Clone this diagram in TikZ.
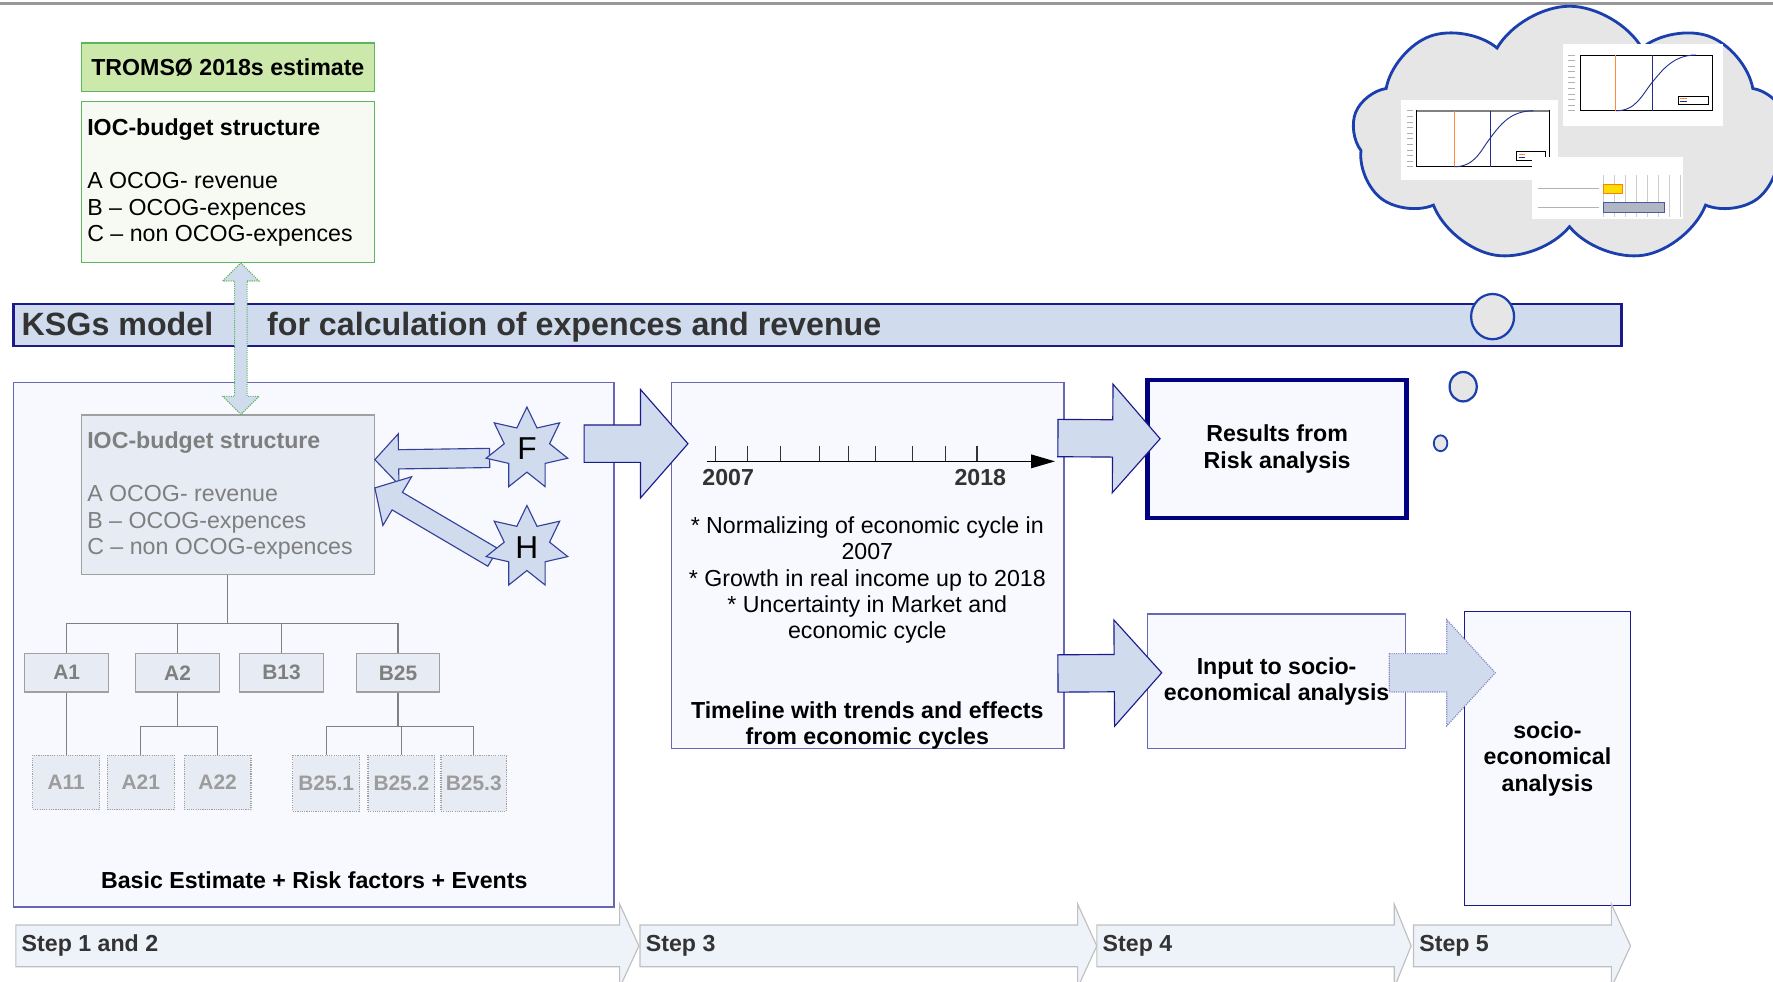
\documentclass[tikz,border=0pt]{standalone}
\usepackage{fontspec}
\setmainfont{Liberation Sans}
\usetikzlibrary{calc,arrows.meta,shapes.geometric,shapes.symbols}

\definecolor{ksgfill}{HTML}{D0DCEE}
\definecolor{ksgline}{HTML}{1A1A8C}
\definecolor{panelfill}{HTML}{F8F9FE}
\definecolor{panelline}{HTML}{6767B5}
\definecolor{navybox}{HTML}{000080}
\definecolor{greenhead}{HTML}{CCE8AA}
\definecolor{greenline}{HTML}{5DB55D}
\definecolor{greenpale}{HTML}{F7F9F3}
\definecolor{budgetfill}{HTML}{E6EBF4}
\definecolor{budgetline}{HTML}{A0A0A0}
\definecolor{greytext}{HTML}{7F7F7F}
\definecolor{paletext}{HTML}{9C9C9C}
\definecolor{darktext}{HTML}{333333}
\definecolor{cloudline}{HTML}{1C3FAE}
\definecolor{cloudfill}{HTML}{E6E6E6}
\definecolor{stepfill}{HTML}{EEF2F9}
\definecolor{stepline}{HTML}{BFBFBF}
\definecolor{starline}{HTML}{34409C}
\definecolor{chartorange}{HTML}{FF8A3D}
\definecolor{chartblue}{HTML}{1F2E8C}

\newcommand{\txtfont}{\fontsize{20.5}{23.4}\selectfont}
\newcommand{\treefont}{\fontsize{18.5}{21}\selectfont\bfseries}
\newcommand{\ksgfont}{\fontsize{28.5}{32}\selectfont\bfseries}

% fat arrow from #2 to #3: shaft half width #4, head half width #5, head length #6
\newcommand{\blockarrow}[6][]{%
  \coordinate (ba-base) at ($(#3)!#6!(#2)$);
  \draw[#1] ($(#2)!#4!90:(#3)$) -- ($(ba-base)!#4!90:(#3)$) -- ($(ba-base)!#5!90:(#3)$) -- (#3)
    -- ($(ba-base)!#5!-90:(#3)$) -- ($(ba-base)!#4!-90:(#3)$) -- ($(#2)!#4!-90:(#3)$) -- cycle;
}

\tikzset{
  plainbox/.style={draw, rectangle, inner sep=0},
  panel/.style={plainbox, draw=panelline, fill=panelfill, line width=1.2pt},
  budget/.style={plainbox, draw=budgetline, fill=budgetfill, line width=1pt},
  branch/.style={budget, text=greytext, font=\treefont},
  leaf/.style={plainbox, draw=budgetline, densely dotted, fill=budgetfill, line width=1pt, text=paletext, font=\treefont},
  treeline/.style={draw=gray, line width=1pt},
  fatarrow/.style={draw=ksgline, fill=ksgfill, line width=1pt, line join=miter},
  starnode/.style={star, star points=7, star point ratio=1.8, minimum size=74pt, inner sep=0,
    draw=starline, fill=ksgfill, line width=1pt, font=\fontsize{28}{32}\selectfont},
  bubble/.style={ellipse, draw=cloudline, fill=cloudfill, line width=2pt, inner sep=0},
  steparrow/.style={draw=stepline, fill=stepfill, line width=1pt},
  chartline/.style={line width=0.8pt}
}

\begin{document}
\begin{tikzpicture}[x=1pt,y=-1pt]
  \useasboundingbox (0,0) rectangle (1568,868);

  \draw[gray!80, line width=2pt] (0,3) -- (1568,3);

  % estimate boxes
  \node (tromso) at (201.5,59.5) [plainbox, draw=greenline, fill=greenhead, line width=1pt,
    minimum width=259pt, minimum height=43pt, font=\txtfont\bfseries]{TROMSØ 2018s estimate};
  \node (ioctop) at (201.5,161) [plainbox, draw=greenline, fill=greenpale, line width=1pt,
    minimum width=259pt, minimum height=142pt]{};
  \node (ioctoptext) at (77,105) [anchor=north west, inner sep=0, align=left, font=\txtfont]
    {\textbf{IOC-budget structure}\\[23.4pt] A OCOG- revenue\\ B – OCOG-expences\\ C – non OCOG-expences};

  % cloud with the result charts
  \node (cloud) at (1388,119) [cloud, cloud puffs=9, cloud puff arc=120, aspect=1.7,
    draw=cloudline, fill=cloudfill, line width=2.5pt, minimum width=384pt, minimum height=227pt, inner sep=0]{};

  \fill[white] (1239,88) rectangle (1378,159);
  \foreach \k in {0,...,10}
    \draw[gray!60, line width=0.8pt] (1244,{98+\k*4.95}) -- ++(6,0);
  \draw[chartline, black] (1253,98) rectangle (1370,147.5);
  \draw[gray, line width=1.5pt] (1253,98) -- (1370,98);
  \draw[chartorange, line width=1pt] (1286,98) -- (1286,147.5);
  \draw[chartline, chartblue] (1318,98) -- (1318,147.5);
  \draw[chartline, chartblue] (1286,147.5) .. controls (1305,147.5) and (1310,132) .. (1318,122)
    .. controls (1327,110) and (1336,98) .. (1356,98);
  \draw[line width=0.6pt, fill=white] (1341,134) rectangle (1367,142);
  \draw[chartorange, line width=1pt] (1343,136.5) -- (1349,136.5);
  \draw[chartblue, line width=1pt] (1343,139.5) -- (1349,139.5);

  \fill[white] (1382,39) rectangle (1524,111);
  \foreach \k in {0,...,10}
    \draw[gray!60, line width=0.8pt] (1387,{48.6+\k*4.94}) -- ++(6,0);
  \draw[chartline, black] (1398,48.6) rectangle (1514,98);
  \draw[chartorange, line width=1pt] (1429,48.6) -- (1429,98);
  \draw[chartline, chartblue] (1461,48.6) -- (1461,98);
  \draw[chartline, chartblue] (1429,98) .. controls (1447,98) and (1452,84) .. (1461,73)
    .. controls (1470,62) and (1480,48.6) .. (1500,48.6);
  \draw[line width=0.6pt, fill=white] (1484,85) rectangle (1511,92);
  \draw[chartorange, line width=1pt] (1486,87.2) -- (1492,87.2);
  \draw[chartblue, line width=1pt] (1486,89.8) -- (1492,89.8);

  \fill[white] (1355,139) rectangle (1488,194);
  \foreach \g in {0,...,7}
    \draw[gray!40, line width=0.8pt] ({1418+\g*9.7},155) -- ++(0,37);
  \draw[gray!60, line width=0.8pt] (1360,167) -- (1414,167) (1360,183.5) -- (1414,183.5);
  \draw[draw=orange, fill=yellow!80!orange, line width=1pt] (1418,163) rectangle (1435,171);
  \draw[draw=chartblue!80, fill=ksgfill!60!gray, line width=1pt] (1418,179) rectangle (1472,188);

  % model bar
  \node (ksgbar) at (723,287.5) [plainbox, draw=ksgline, fill=ksgfill, line width=2pt,
    minimum width=1422pt, minimum height=37pt]{};
  \node (ksgname) at (19,297) [anchor=base west, inner sep=0, font=\ksgfont, text=darktext]{KSGs model};
  \node (ksgtitle) at (236,297) [anchor=base west, inner sep=0, font=\ksgfont, text=darktext]
    {for calculation of expences and revenue};

  % step panels
  \node (leftbox) at (277.5,570) [panel, minimum width=531pt, minimum height=464pt]{};
  \node (timebox) at (767.5,500) [panel, minimum width=347pt, minimum height=324pt]{};
  \node (resbox) at (1129.5,397) [plainbox, draw=navybox, fill=panelfill, line width=4pt,
    minimum width=229pt, minimum height=122pt, align=center, font=\txtfont\bfseries]{Results from\\Risk analysis};
  \node (inbox) at (1129,602.5) [panel, minimum width=228pt, minimum height=119pt,
    align=center, font=\txtfont\bfseries]{Input to socio-\\economical analysis};
  \node (socbox) at (1368.5,671) [panel, draw=ksgline, minimum width=147pt, minimum height=260pt,
    align=center, font=\txtfont\bfseries]{socio-\\economical\\analysis};

  % budget tree
  \node (iocgray) at (201.5,437.5) [budget, minimum width=259pt, minimum height=141pt]{};
  \node (iocgraytext) at (77,382) [anchor=north west, inner sep=0, align=left, font=\txtfont, text=greytext]
    {\textbf{IOC-budget structure}\\[23.4pt] A OCOG- revenue\\ B – OCOG-expences\\ C – non OCOG-expences};

  \node (a1) at (59,595) [branch, minimum width=74pt, minimum height=34pt]{A1};
  \node (a2) at (157,595) [branch, minimum width=74pt, minimum height=34pt]{A2};
  \node (b13) at (249,595) [branch, minimum width=74pt, minimum height=34pt]{B13};
  \node (b25) at (352,595) [branch, minimum width=74pt, minimum height=34pt]{B25};
  \node (a11) at (58.5,692) [leaf, minimum width=59pt, minimum height=48pt]{A11};
  \node (a21) at (124.5,692) [leaf, minimum width=59pt, minimum height=48pt]{A21};
  \node (a22) at (192.5,692) [leaf, minimum width=59pt, minimum height=48pt]{A22};
  \node (b251) at (288.5,693) [leaf, minimum width=59pt, minimum height=49pt]{B25.1};
  \node (b252) at (355,693) [leaf, minimum width=59pt, minimum height=49pt]{B25.2};
  \node (b253) at (419,693) [leaf, minimum width=58pt, minimum height=49pt]{B25.3};

  \coordinate (bus) at ($(iocgray.south)+(0,43)$);
  \draw[treeline] (iocgray.south) -- (bus);
  \foreach \n in {a1,a2,b13,b25}
    \draw[treeline] (bus) -| (\n.north);
  \draw[treeline] (a1.south) -- (a1.south |- a11.north);
  \foreach \n in {a21,a22}
    \draw[treeline] (a2.south) -- ++(0,30) -| (\n.north);
  \foreach \n in {b251,b252,b253}
    \draw[treeline] (b25.south) -- ++(0,30) -| (\n.north);

  \node (basic) at (278,778) [font=\txtfont\bfseries]{Basic Estimate + Risk factors + Events};

  % risk factors and events
  \coordinate (fcentre) at (466,397);
  \coordinate (hcentre) at (466,484);
  \coordinate (ftail) at ($(fcentre)+(-33,8)$);
  \coordinate (ftip) at ($(iocgray.north east)+(0,40)$);
  \coordinate (htail) at ($(hcentre)+(-30,9)$);
  \coordinate (htip) at ($(iocgray.north east)+(0,65)$);
  \blockarrow[fatarrow, draw=starline]{ftail}{ftip}{8.5pt}{22.5pt}{21pt}
  \blockarrow[fatarrow, draw=starline]{htail}{htip}{9pt}{25pt}{23pt}
  \node (fstar) at (fcentre) [starnode]{F};
  \node (hstar) at (hcentre) [starnode]{H};

  % timeline
  \coordinate (tlstart) at (625,408);
  \coordinate (tlend) at (933,408);
  \draw[line width=1pt, -{Triangle[length=21pt,width=12pt]}] (tlstart) -- (tlend);
  \foreach \t in {633,661,690,725,750,774,807,836,864}
    \draw[line width=1pt, darktext] (\t,408) -- ++(0,-14);
  \node (y2007) at (644,422) [font=\txtfont\bfseries, text=darktext]{2007};
  \node (y2018) at (867,422) [font=\txtfont\bfseries, text=darktext]{2018};
  \node (trends) at (767,513) [align=center, font=\txtfont]
    {* Normalizing of economic cycle in\\ 2007\\ * Growth in real income up to 2018\\ * Uncertainty in Market and\\ economic cycle};
  \node (timecap) at (767,641.5) [align=center, font=\txtfont\bfseries]
    {Timeline with trends and effects\\ from economic cycles};

  % step arrows between panels
  \coordinate (s12out) at ($(leftbox.north east)+(-27,55)$);
  \coordinate (s3in) at ($(timebox.north west)+(15,55)$);
  \coordinate (s3outa) at ($(timebox.north east)+(-6,50)$);
  \coordinate (s4ina) at ($(resbox.west)+(13,-9)$);
  \coordinate (s3outb) at ($(timebox.south east)+(-6,-67)$);
  \coordinate (s4inb) at ($(inbox.west)+(13,-7.5)$);
  \coordinate (s4out) at ($(inbox.east)+(-15,-7.5)$);
  \coordinate (s5in) at ($(socbox.west)+(28,-76)$);
  \blockarrow[fatarrow]{s12out}{s3in}{16.5pt}{48pt}{42pt}
  \blockarrow[fatarrow]{s3outa}{s4ina}{16.5pt}{48pt}{42pt}
  \blockarrow[fatarrow]{s3outb}{s4inb}{16.5pt}{47pt}{42pt}
  \blockarrow[fatarrow, draw=panelline!80, densely dotted]{s4out}{s5in}{17pt}{47pt}{43pt}

  % model link
  \coordinate (dtop) at ($(ioctop.south)+(11.5,0)$);
  \coordinate (dbot) at ($(iocgray.north)+(11.5,0)$);
  \draw[fill=ksgfill, draw=greenline, densely dotted, line width=1pt]
    (dtop) -- ++(16,16) -- ++(-10.5,0) -- ($(dbot)+(5.5,-16)$) -- ++(10.5,0) -- (dbot)
    -- ++(-16,-16) -- ++(10.5,0) -- ($(dtop)+(-5.5,16)$) -- ++(-10.5,0) -- cycle;

  % thought bubbles
  \node (think1) at (1320,280) [bubble, minimum width=38pt, minimum height=40pt]{};
  \node (think2) at (1294,342) [bubble, minimum width=24pt, minimum height=26pt]{};
  \node (think3) at (1274,392) [bubble, line width=1.6pt, minimum width=12pt, minimum height=14pt]{};

  % steps
  \foreach \xa/\xb/\xc/\steplab [count=\i] in {14/548/565/Step 1 and 2, 566/953/970/Step 3,
      970/1233/1248/Step 4, 1250/1425/1442/Step 5} {
    \draw[steparrow] (\xa,818) -- (\xb,818) -- (\xb,799.5) -- (\xc,836.5) -- (\xb,873.5)
      -- (\xb,855) -- (\xa,855) -- cycle;
    \node (step\i) at (\xa,836.5) [anchor=west, xshift=5pt, inner sep=0, text=darktext,
      font=\txtfont\bfseries]{\steplab};
  }

\end{tikzpicture}
\end{document}
